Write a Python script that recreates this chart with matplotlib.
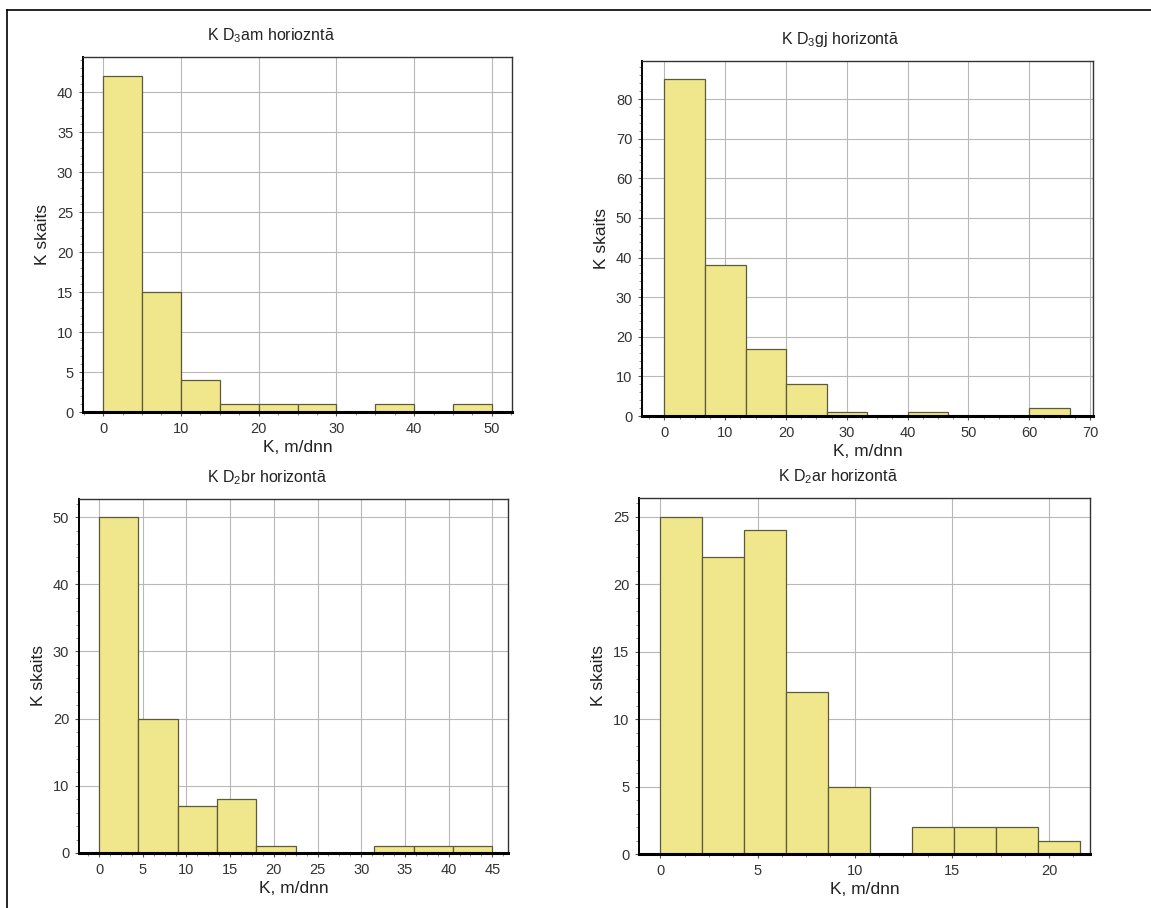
import numpy as np
import matplotlib.pyplot as plt
from matplotlib.lines import Line2D
from matplotlib.ticker import MultipleLocator, AutoMinorLocator

plt.rcParams['font.family'] = ['Liberation Sans', 'DejaVu Sans']
plt.rcParams['mathtext.fontset'] = 'custom'
plt.rcParams['mathtext.rm'] = 'Liberation Sans'
plt.rcParams['mathtext.it'] = 'Liberation Sans'

# counts per class, 10 equal classes from 0 to the upper edge
titles = [r'K D$_\mathrm{3}$am horiozntā', r'K D$_\mathrm{3}$gj horizontā',
          r'K D$_\mathrm{2}$br horizontā', r'K D$_\mathrm{2}$ar horizontā']
upper = [50.0, 66.7, 45.0, 21.6]
counts_am = [42, 15, 4, 1, 1, 1, 0, 1, 0, 1]
counts_gj = [85, 38, 17, 8, 1, 0, 1, 0, 0, 2]
counts_br = [50, 20, 7, 8, 1, 0, 0, 1, 1, 1]
counts_ar = [25, 22, 24, 12, 5, 0, 2, 2, 2, 1]
counts = [counts_am, counts_gj, counts_br, counts_ar]

W, H = 1151, 908
# axes boxes in pixels: left, right, top, bottom
boxes = [(83, 512, 57, 412), (642, 1093, 61, 416),
         (79, 508, 499, 853), (639, 1090, 498, 854)]
xlims = [(-2.6, 52.6), (-3.7, 70.5), (-2.3, 46.8), (-1.1, 22.1)]
ylims = [44.4, 89.6, 52.7, 26.4]
xstep = [10, 10, 5, 5]
ystep = [5, 10, 10, 5]

fig = plt.figure(figsize=(W / 100, H / 100), dpi=100)

for i in range(4):
    l, r, t, b = boxes[i]
    ax = fig.add_axes([l / W, 1 - b / H, (r - l) / W, (b - t) / H])
    edges = np.linspace(0, upper[i], len(counts[i]) + 1)
    ax.hist(edges[:-1], bins=edges, weights=counts[i],
            color='#F0E68C', edgecolor='#5c5a3a', linewidth=0.9)
    ax.set_xlim(*xlims[i])
    ax.set_ylim(0, ylims[i])
    ax.xaxis.set_major_locator(MultipleLocator(xstep[i]))
    ax.yaxis.set_major_locator(MultipleLocator(ystep[i]))
    ax.xaxis.set_minor_locator(AutoMinorLocator(4))
    ax.yaxis.set_minor_locator(AutoMinorLocator(5))
    ax.set_axisbelow(True)
    ax.grid(True, which='major', color='#b8b8b8', linewidth=0.8)
    ax.tick_params(which='major', length=3, width=0.8, labelsize=10.5,
                   labelcolor='#333333', color='#555555', pad=4)
    ax.tick_params(which='minor', length=2, width=0.6, color='#777777')
    for side in ['top', 'right']:
        ax.spines[side].set_linewidth(1.0)
        ax.spines[side].set_color('#333333')
    ax.spines['left'].set_linewidth(1.4)
    ax.spines['bottom'].set_linewidth(2.2)
    # titles sit a little left of the plot centre
    ax.set_title(titles[i], fontsize=11.5, pad=12, color='#222222',
                 x=0.5 - 27 / (r - l))
    ax.set_xlabel('K, m/dnn', fontsize=12.5, labelpad=3, color='#222222')
    ax.set_ylabel('K skaits', fontsize=12.5, labelpad=5, color='#222222')

# outer frame lines along the top and left edges
fig.add_artist(Line2D([7 / W, 1], [1 - 10 / H, 1 - 10 / H], color='black', linewidth=1.2))
fig.add_artist(Line2D([7 / W, 7 / W], [0, 1 - 10 / H], color='black', linewidth=1.2))

fig.savefig('out.png', dpi=100, facecolor='white')
